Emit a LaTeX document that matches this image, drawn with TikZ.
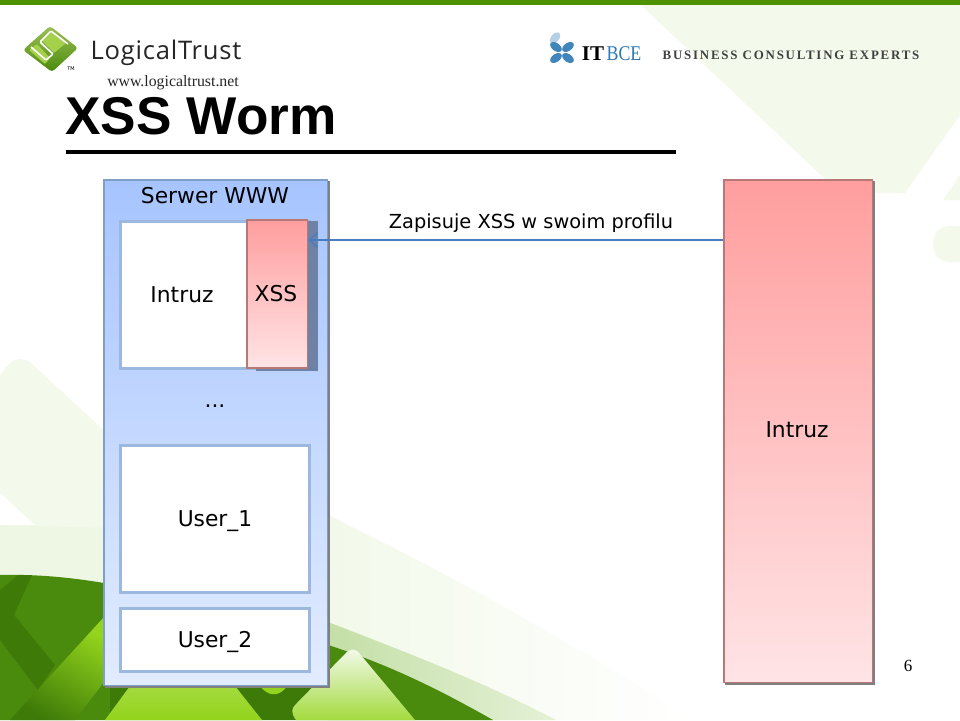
\documentclass[tikz,border=0pt]{standalone}
\usepackage{fontspec}
\setmainfont{DejaVu Sans}
\newfontfamily\titlefont{Liberation Sans}
\newfontfamily\seriffont{Liberation Serif}
\newfontfamily\logofont[LetterSpace=3]{Open Sans}
\newfontfamily\bcefont[LetterSpace=14]{Liberation Serif}
\usetikzlibrary{arrows.meta,positioning}
\definecolor{barg}{HTML}{4F9200}
\definecolor{paleg}{HTML}{F3FAEB}
\definecolor{bandg}{HTML}{EEF6E4}
\definecolor{arcg}{HTML}{C4DFA6}
\definecolor{darkg}{HTML}{4A8A0C}
\definecolor{deepg}{HTML}{3E7A08}
\definecolor{limeg}{HTML}{93D41C}
\definecolor{logog}{HTML}{A4D04C}
\definecolor{edgeb}{HTML}{7F9FC9}
\definecolor{innerb}{HTML}{9DB8DE}
\definecolor{edger}{HTML}{B87878}
\definecolor{arrowb}{HTML}{4A7CC0}
\definecolor{bceb}{HTML}{2C78B4}
\definecolor{topb}{HTML}{A6C4FF}
\definecolor{botb}{HTML}{E2ECFF}
\definecolor{topr}{HTML}{FF9E9E}
\definecolor{botr}{HTML}{FFE4E6}
\definecolor{shadowb}{HTML}{6E82A5}

\begin{document}
\begin{tikzpicture}[x=1pt, y=-1pt, >={Straight Barb[length=8pt,width=14pt,line width=1.6pt]},
	serverbox/.style={rectangle, anchor=north west, draw=edgeb, line width=1.5pt, top color=topb, bottom color=botb},
	userbox/.style={rectangle, anchor=north west, draw=innerb, fill=white, line width=3pt},
	redbox/.style={rectangle, anchor=north west, draw=edger, line width=1.5pt, top color=topr, bottom color=botr},
	shadowbox/.style={rectangle, anchor=north west, fill=gray},
	lab/.style={font=\fontsize{21.8}{26}\selectfont, text=black, inner sep=0pt},
	pil/.style={->, arrowb, line width=2pt}]
	% background
	\fill[white] (0,0) rectangle (960,720);
	\fill[paleg] (640,4) -- (960,4) -- (960,115) -- (905,193) -- (840,193) -- cycle;
	\fill[paleg] (960,175) -- (943,200) -- (960,200) -- cycle;
	\fill[paleg] (960,226) -- (948,226) .. controls (928,228) and (928,260) .. (948,262) -- (960,262) -- cycle;
	\fill[paleg] (0,375) -- (10,363) .. controls (16,358) and (24,358) .. (30,362) -- (110,436) -- (110,600) -- (0,600) -- cycle;
	\fill[white] (0,493) -- (35,525) -- (0,525) -- cycle;
	\fill[bandg] (0,525) -- (110,528) -- (110,600) -- (0,600) -- cycle;
	\shade[left color=paleg!80!bandg, right color=white] (328,515) .. controls (450,575) and (570,640) .. (690,720) -- (328,720) -- cycle;
	\shade[left color=arcg, right color=arcg!45!white] (328,622) .. controls (400,650) and (480,680) .. (556,720) -- (328,720) -- cycle;
	\fill[darkg] (328,645) .. controls (390,665) and (440,690) .. (493,720) -- (0,720) -- (0,575) .. controls (40,574) and (75,578) .. (110,584) -- (110,720) -- (328,720) -- cycle;
	\fill[deepg] (0,590) -- (18,575) -- (32,575) -- (14,615) -- (55,665) -- (38,690) -- (0,640) -- cycle;
	\fill[deepg] (110,686) rectangle (328,720);
	\shade[top color=limeg, bottom color=deepg, shading angle=-30] (104,617) -- (104,682) -- (75,720) -- (10,720) -- cycle;
	\shade[top color=limeg!85!white, bottom color=limeg] (130,686) -- (235,686) -- (262,720) -- (105,720) -- cycle;
	\fill[limeg] (260,686) -- (287,686) .. controls (280,697) and (268,697) .. (260,686) -- cycle;
	\shade[top color=paleg, bottom color=limeg!85!white] (345,654) .. controls (350,648) and (356,648) .. (360,654) -- (415,720) -- (296,720) .. controls (290,712) and (292,708) .. (296,704) -- cycle;
	\fill[barg] (0,0) rectangle (960,4.5);
	% logos
	\shade[top color=logog!80!gray, bottom color=darkg, rounded corners=3pt] (50,26) -- (78,48) -- (52,72) -- (23,50) -- cycle;
	\fill[logog, rounded corners=1pt] (42,41) -- (52,32) -- (66,43) -- (54,53) -- cycle;
	\fill[logog, rounded corners=1pt] (29,50) -- (37,44) -- (50,58) -- (45,64) -- cycle;
	\draw[white, line width=1.6pt, rounded corners=1pt] (31,47) -- (46,60) -- (53,54) -- (40,42) -- (51,31) -- (68,44);
	\node[font=\fontsize{5}{5}\selectfont, inner sep=0pt] (tm) at (71,69) {TM};
	\node[font=\logofont\fontsize{25.6}{28}\selectfont, text=black!85, inner sep=0pt] (logical) at (166,53) {LogicalTrust};
	\node[font=\seriffont\fontsize{15.8}{17}\selectfont, text=black!85, inner sep=0pt] (www) at (173,83) {www.logicaltrust.net};
	\foreach \px/\py/\ang/\shd in {555/38/50/35, 556/47/-35/90, 568/47/35/90, 556/58/35/90, 568/58/-35/90}
		\fill[bceb!\shd!white] (\px,\py) ellipse [x radius=6.5pt, y radius=4pt, rotate=\ang];
	\node[font=\seriffont\bfseries\fontsize{21}{24}\selectfont, inner sep=0pt] (it) at (593,54) {IT};
	\node[font=\seriffont\fontsize{21}{24}\selectfont, text=bceb, inner sep=0pt, xscale=0.85] (bce) at (624,54) {BCE};
	\node[font=\bcefont\bfseries\fontsize{12.9}{14}\selectfont, text=black!75, inner sep=0pt] (experts) at (791,55) {BUSINESS CONSULTING EXPERTS};
	% title
	\node[font=\titlefont\bfseries\fontsize{53.2}{60}\selectfont, inner sep=0pt] (title) at (201,116) {XSS Worm};
	\coordinate (rulea) at (66,152);
	\coordinate (ruleb) at (676,152);
	\draw[line width=4pt] (rulea) -- (ruleb);
	% server
	\node[shadowbox, minimum width=225pt, minimum height=507pt] (serwersh) at (105,181) {};
	\node[serverbox, minimum width=223.5pt, minimum height=505.5pt] (serwer) at (103,179) {};
	\node[lab] (serwerlab) at (215,196) {Serwer WWW};
	\node[userbox, minimum width=189pt, minimum height=147pt] (intruzbox) at (119,220) {};
	\node[lab] (intruzlab) at (182,295) {Intruz};
	\node[shadowbox, fill=shadowb, minimum width=62pt, minimum height=150pt] (xsssh) at (256,221) {};
	\node[redbox, minimum width=60.5pt, minimum height=148pt] (xss) at (246,219) {};
	\node[lab] (xsslab) at (276,294) {XSS};
	\node[lab] (dots) at (215,406) {...};
	\node[userbox, minimum width=189pt, minimum height=147pt] (user1) at (119,444) {};
	\node[lab] (user1lab) at (215,521) {User\_1};
	\node[userbox, minimum width=189pt, minimum height=63pt, below=13pt of user1.south west, anchor=north west] (user2) {};
	\node[lab] (user2lab) at (215,642) {User\_2};
	% intruder
	\node[shadowbox, minimum width=150pt, minimum height=504pt] (intruzsh) at (725,181) {};
	\node[redbox, minimum width=148.5pt, minimum height=502.5pt] (intruz) at (723,179) {};
	\node[lab] (intruzrlab) at (797,430) {Intruz};
	\coordinate (zapis) at (723,240);
	\draw[pil] (zapis) -- (zapis -| xss.east);
	\node[font=\fontsize{19.35}{22}\selectfont, inner sep=0pt] (zapislab) at (531,223) {Zapisuje XSS w swoim profilu};
	\node[font=\seriffont\fontsize{17}{20}\selectfont, inner sep=0pt] (page) at (908,666) {6};
	\useasboundingbox (0,0) rectangle (960,720);
\end{tikzpicture}
\end{document}
